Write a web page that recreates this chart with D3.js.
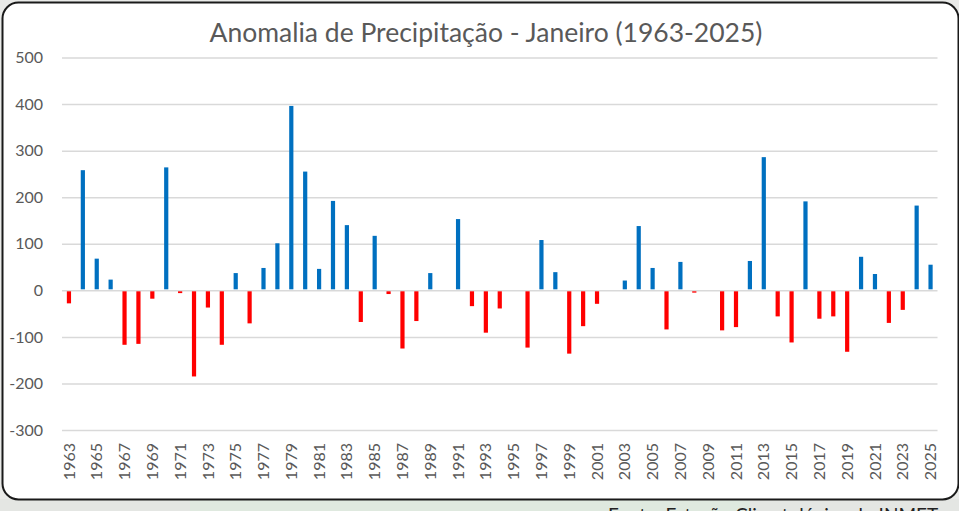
<!DOCTYPE html>
<html>
<head>
<meta charset="utf-8">
<script src="https://cdn.jsdelivr.net/npm/d3@7"></script>
<style>
  html, body { margin: 0; padding: 0; background: #e9eae8; overflow: hidden; }
  svg { display: block; font-family: Lato, "Open Sans", sans-serif; }
</style>
</head>
<body>
<svg id="chart" width="959" height="511"></svg>
<script>
// january precipitation anomaly (mm), one value per year
const years = d3.range(1963, 2026);
const anomaly = [
  -28, 258, 68, 23, -117, -115, -18, 264, -6, -185,
  -37, -117, 37, -71, 48, 101, 396, 255, 46, 192,
  140, -68, 117, -8, -125, -66, 37, 0, 153, -34,
  -91, -39, 0, -123, 108, 39, -136, -77, -29, 0,
  21, 138, 48, -84, 61, -5, 0, -86, -79, 63,
  286, -56, -112, 191, -61, -56, -132, 72, 35, -70,
  -42, 182, 55
];
const yTicks = [-300, -200, -100, 0, 100, 200, 300, 400, 500];
const title = "Anomalia de Precipitação - Janeiro (1963-2025)";
const source = "Fonte: Estação Climatológica do INMET";

const data = years.map((y, i) => ({ year: y, value: anomaly[i] }));

const svg = d3.select("#chart");
const width = 959, height = 511;

// page strip behind the frame
svg.append("rect").attr("x", 0).attr("y", 499).attr("width", width).attr("height", 12).attr("fill", "#e4e6e3");
svg.append("rect").attr("x", 190).attr("y", 499).attr("width", 560).attr("height", 12).attr("fill", "#dfe9df");

// white card with rounded border
svg.append("rect")
  .attr("x", 2.5).attr("y", 2.5)
  .attr("width", 956).attr("height", 497)
  .attr("rx", 16)
  .attr("fill", "#ffffff")
  .attr("stroke", "#1a1a1a")
  .attr("stroke-width", 2);

const plot = { left: 62, right: 937.5, top: 57.5, bottom: 430 };

const x = d3.scaleBand()
  .domain(years)
  .range([plot.left, plot.right])
  .padding(0);

const y = d3.scaleLinear()
  .domain([-300, 500])
  .range([plot.bottom, plot.top]);

// horizontal grid lines with labels (plain hyphen for negatives, like the original)
const yAxis = d3.axisLeft(y)
  .tickValues(yTicks)
  .tickFormat(d => String(d))
  .tickSize(-(plot.right - plot.left))
  .tickPadding(19);
const yg = svg.append("g")
  .attr("transform", `translate(${plot.left},0)`)
  .call(yAxis);
yg.attr("font-family", null).attr("font-size", null);
yg.select(".domain").remove();
yg.selectAll("line").attr("stroke", "#d9d9d9").attr("stroke-width", 1.5);
yg.selectAll("text")
  .attr("fill", "#595959")
  .style("font-size", "16px");

// bars
const barW = 4.2;
svg.append("g").selectAll("rect")
  .data(data)
  .join("rect")
  .attr("x", d => x(d.year) + x.bandwidth() / 2 - barW / 2)
  .attr("y", d => d.value >= 0 ? y(d.value) : y(0) + 1)
  .attr("width", barW)
  .attr("height", d => Math.max(0, Math.abs(y(d.value) - y(0)) - 1))
  .attr("fill", d => d.value >= 0 ? "#0070c0" : "#ff0000");

// year labels, every other year, rotated
const xAxis = d3.axisBottom(x)
  .tickValues(years.filter((v, i) => i % 2 === 0))
  .tickSize(0);
const xg = svg.append("g")
  .attr("transform", `translate(0,${plot.bottom})`)
  .call(xAxis);
xg.attr("font-family", null).attr("font-size", null);
xg.select(".domain").remove();
xg.selectAll("text")
  .attr("fill", "#595959")
  .style("font-size", "16px")
  .attr("text-anchor", "end")
  .attr("transform", "rotate(-90)")
  .attr("x", -13)
  .attr("y", 0)
  .attr("dy", "0.35em");

// title
svg.append("text")
  .attr("x", 486)
  .attr("y", 42)
  .attr("text-anchor", "middle")
  .attr("fill", "#595959")
  .style("font-size", "26.5px")
  .text(title);

// source line, mostly cut off by the window edge as in the original
svg.append("text")
  .attr("x", 608)
  .attr("y", 522)
  .attr("fill", "#222")
  .style("font-size", "19px")
  .text(source);
</script>
</body>
</html>
